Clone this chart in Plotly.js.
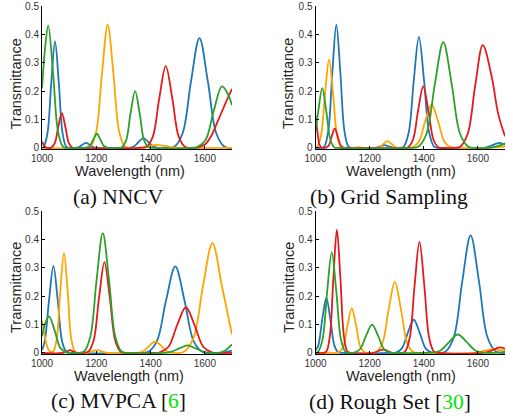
<!DOCTYPE html>
<html>
<head>
<meta charset="utf-8">
<script src="https://cdn.plot.ly/plotly-3.0.1.min.js"></script>
<style>html,body{margin:0;padding:0;background:#fff;}#chart{width:506px;height:417px;}</style>
</head>
<body>
<div id="chart"></div>
<script>
// ---- tick labels ----
const xTickVals = [1000, 1200, 1400, 1600];
const yTickVals = [0, 0.1, 0.2, 0.3, 0.4, 0.5];
const yTickText = ['0', '0.1', '0.2', '0.3', '0.4', '0.5'];
const panelCaptions = ['(a) NNCV', '(b) Grid Sampling', '(c) MVPCA [<span style="color:#00e600">6</span>]', '(d) Rough Set [<span style="color:#00e600">30</span>]'];
const seriesNames = ['Filter 1', 'Filter 2', 'Filter 3', 'Filter 4'];

// ---- (a) NNCV ----
const aBlueX = [1000,1006,1020,1034,1048,1062,1076,1090,1104,1120,1134,1148,1162,1176,1190,1204,1320,1338,1356,1374,1392,1410,1428,1456,1487,1518,1549,1580,1611,1642,1673,1700];
const aBlueY = [0,0.004,0.051,0.228,0.375,0.228,0.051,0.004,0,0,0.002,0.011,0.018,0.011,0.002,0,0,0.005,0.021,0.035,0.021,0.005,0,0,0.004,0.052,0.235,0.387,0.235,0.052,0.004,0];
const aOrangeX = [1000,1158,1179,1200,1221,1242,1263,1284,1305,1326,1363,1393,1423,1453,1483,1513,1700];
const aOrangeY = [0,0,0.005,0.059,0.263,0.434,0.263,0.059,0.005,0,0.002,0.007,0.011,0.007,0.002,0,0];
const aRedX = [1000,1008,1016,1024,1034,1047,1060,1073,1086,1099,1112,1125,1360,1384,1408,1432,1456,1480,1504,1528,1552,1575,1600,1625,1650,1675,1700];
const aRedY = [0.022,0.008,0.001,0,0.001,0.017,0.075,0.123,0.075,0.017,0.001,0,0,0.003,0.039,0.175,0.288,0.175,0.039,0.003,0,0.002,0.012,0.045,0.1,0.155,0.208];
const aGreenX = [1000,1012,1023,1041,1059,1077,1095,1150,1163,1176,1189,1202,1215,1228,1241,1254,1277,1293,1310,1326,1343,1360,1376,1393,1410,1543,1573,1603,1633,1663,1685,1700];
const aGreenY = [0.21,0.358,0.431,0.262,0.058,0.005,0,0,0.001,0.007,0.03,0.05,0.03,0.007,0.001,0,0,0.002,0.027,0.121,0.2,0.121,0.027,0.002,0,0,0.004,0.029,0.132,0.217,0.19,0.15];

// ---- (b) Grid Sampling ----
const bBlueX = [1000,1017,1032,1047,1062,1077,1092,1107,1122,1137,1220,1240,1255,1270,1290,1306,1325,1344,1363,1382,1401,1420,1439,1458,1620,1650,1678,1700];
const bBlueY = [0,0,0.005,0.059,0.263,0.434,0.263,0.059,0.005,0,0,0.006,0.01,0.006,0,0,0.004,0.053,0.237,0.391,0.237,0.053,0.004,0,0,0.008,0.018,0.012];
const bOrangeX = [1000,1005,1020,1035,1050,1065,1080,1095,1110,1140,1160,1180,1224,1238,1252,1266,1280,1294,1308,1333,1357,1381,1405,1429,1453,1477,1501,1525,1640,1670,1700];
const bOrangeY = [0,0.003,0.042,0.189,0.312,0.189,0.042,0.003,0,0,0.003,0,0,0.003,0.015,0.024,0.015,0.003,0,0,0.002,0.021,0.093,0.153,0.093,0.021,0.002,0,0,0.002,0.006];
const bRedX = [1000,1005,1010,1015,1022,1030,1038,1049,1060,1071,1082,1093,1104,1115,1322,1341,1360,1379,1398,1417,1436,1455,1474,1506,1534,1562,1590,1618,1650,1675,1700];
const bRedY = [0.115,0.075,0.035,0.011,0.001,0,0.001,0.009,0.041,0.068,0.041,0.009,0.001,0,0,0.002,0.029,0.132,0.217,0.132,0.029,0.002,0,0,0.004,0.049,0.22,0.362,0.255,0.12,0.041];
const bGreenX = [1000,1010,1025,1040,1055,1070,1085,1348,1379,1410,1441,1472,1503,1534,1565,1596,1640,1670,1700];
const bGreenY = [0.056,0.128,0.211,0.128,0.029,0.002,0,0,0.004,0.05,0.226,0.373,0.226,0.05,0.004,0,0,0.006,0.016];

// ---- (c) MVPCA ----
const cBlueX = [1000,1010,1026,1042,1058,1074,1090,1106,1355,1389,1423,1457,1491,1525,1559,1593,1627,1660,1700];
const cBlueY = [0.01,0.041,0.186,0.307,0.186,0.041,0.003,0,0,0.003,0.041,0.185,0.305,0.185,0.041,0.003,0,0,0.008];
const cOrangeX = [1000,1010,1020,1030,1041,1054,1067,1081,1095,1108,1122,1135,1165,1185,1202,1220,1240,1351,1373,1395,1417,1439,1461,1483,1523,1558,1593,1628,1663,1700];
const cOrangeY = [0.114,0.06,0.02,0.005,0.005,0.048,0.213,0.352,0.213,0.048,0.004,0,0,0.006,0.01,0.006,0,0,0.006,0.025,0.041,0.025,0.006,0,0.004,0.052,0.235,0.387,0.235,0.065];
const cRedX = [1000,1075,1090,1103,1116,1130,1150,1170,1190,1210,1230,1250,1270,1290,1310,1402,1434,1466,1498,1530,1562,1594,1626,1658,1700];
const cRedY = [0,0,0.005,0.01,0.005,0,0,0.004,0.043,0.194,0.32,0.194,0.043,0.004,0,0,0.002,0.022,0.098,0.161,0.098,0.022,0.002,0,0];
const cGreenX = [1000,1013,1026,1047,1068,1089,1110,1132,1155,1178,1201,1224,1247,1270,1293,1316,1446,1476,1506,1536,1566,1596,1626,1650,1675,1700];
const cGreenY = [0.059,0.107,0.129,0.078,0.017,0.002,0,0,0.005,0.057,0.256,0.422,0.256,0.057,0.005,0,0,0.004,0.016,0.027,0.016,0.004,0,0,0.009,0.03];

// ---- (d) Rough Set ----
const dBlueX = [1000,1010,1025,1040,1055,1070,1085,1100,1275,1297,1319,1341,1363,1385,1407,1429,1451,1480,1511,1542,1573,1604,1635,1666,1700];
const dBlueY = [0.01,0.026,0.118,0.194,0.118,0.026,0.002,0,0,0.001,0.016,0.071,0.117,0.071,0.016,0.001,0,0.004,0.056,0.251,0.414,0.251,0.056,0.005,0];
const dOrangeX = [1000,1070,1086,1102,1118,1134,1150,1166,1182,1198,1224,1247,1270,1293,1316,1339,1362,1385,1590,1625,1655,1685,1700];
const dOrangeY = [0,0,0.002,0.021,0.096,0.158,0.096,0.021,0.002,0,0.003,0.034,0.152,0.25,0.152,0.034,0.003,0,0,0.008,0.013,0.01,0.008];
const dRedX = [1000,1027,1040,1053,1066,1079,1092,1105,1118,1131,1215,1232,1249,1266,1285,1312,1330,1348,1366,1384,1402,1420,1438,1456,1620,1650,1680,1700];
const dRedY = [0,0,0.005,0.059,0.263,0.434,0.263,0.059,0.005,0,0,0.007,0.012,0.007,0,0,0.004,0.053,0.237,0.391,0.237,0.053,0.004,0,0,0.008,0.02,0.015];
const dGreenX = [1000,1009,1026,1043,1060,1077,1094,1111,1128,1143,1165,1187,1209,1231,1253,1275,1297,1398,1430,1462,1494,1526,1558,1590,1622,1654,1700];
const dGreenY = [0.001,0.004,0.048,0.215,0.355,0.215,0.048,0.004,0,0.001,0.014,0.061,0.1,0.061,0.014,0.001,0,0,0.001,0.009,0.039,0.065,0.039,0.009,0.001,0,0.004];

// ---- build ----
const colors = {blue: '#1f77b4', orange: '#ffa500', red: '#e41a1c', green: '#2ca02c'};
const panels = [
  {ax: '', series: [['blue', aBlueX, aBlueY], ['orange', aOrangeX, aOrangeY], ['red', aRedX, aRedY], ['green', aGreenX, aGreenY]]},
  {ax: '2', series: [['blue', bBlueX, bBlueY], ['orange', bOrangeX, bOrangeY], ['red', bRedX, bRedY], ['green', bGreenX, bGreenY]]},
  {ax: '3', series: [['blue', cBlueX, cBlueY], ['orange', cOrangeX, cOrangeY], ['red', cRedX, cRedY], ['green', cGreenX, cGreenY]]},
  {ax: '4', series: [['blue', dBlueX, dBlueY], ['orange', dOrangeX, dOrangeY], ['red', dRedX, dRedY], ['green', dGreenX, dGreenY]]}
];
const traces = [];
panels.forEach(p => {
  p.series.forEach((s, i) => {
    traces.push({
      type: 'scatter', mode: 'lines', name: seriesNames[i],
      x: s[1], y: s[2],
      xaxis: 'x' + p.ax, yaxis: 'y' + p.ax,
      line: {color: colors[s[0]], width: 1.8, shape: 'spline', smoothing: 1},
      showlegend: false, hoverinfo: 'skip'
    });
  });
});

const tickFont = {family: 'Liberation Sans, Arial, sans-serif', size: 10, color: '#333'};
function xax(dom, anchor) {
  return {domain: dom, anchor: anchor, range: [1000, 1700], tickvals: xTickVals, ticks: 'inside', ticklen: 3,
    tickcolor: '#000', showline: true, linecolor: '#000', linewidth: 1, showgrid: false, zeroline: false,
    tickfont: tickFont, fixedrange: true};
}
function yax(dom, anchor) {
  return {domain: dom, anchor: anchor, range: [-0.004, 0.5], tickvals: yTickVals, ticktext: yTickText, ticks: 'inside', ticklen: 3,
    tickcolor: '#000', showline: true, linecolor: '#000', linewidth: 1, showgrid: false, zeroline: false,
    tickfont: tickFont, fixedrange: true};
}
const W = 506, H = 417;
const xL = [42 / W, 232 / W], xR = [315.5 / W, 505 / W];
const yT = [1 - 149.1 / H, 1 - 6 / H], yB = [1 - 354.1 / H, 1 - 211 / H];

const titleFont = {family: 'Liberation Sans, Arial, sans-serif', size: 14.5, color: '#262626'};
const capFont = {family: 'Liberation Serif, Times New Roman, serif', size: 21.5, color: '#111'};
const annotations = [];
[[15.5, 84], [288, 84], [16, 288], [289, 288]].forEach(p => annotations.push({
  text: 'Transmittance', x: p[0] / W, y: 1 - p[1] / H, xref: 'paper', yref: 'paper', showarrow: false,
  textangle: -90, xanchor: 'center', yanchor: 'middle', font: titleFont}));
[[129.5, 171], [401, 171], [129, 375.5], [401, 375.5]].forEach(p => annotations.push({
  text: 'Wavelength (nm)', x: p[0] / W, y: 1 - p[1] / H, xref: 'paper', yref: 'paper', showarrow: false,
  xanchor: 'center', yanchor: 'middle', font: titleFont}));
[[118.5, 197], [389, 197], [118, 401], [390, 402]].forEach((p, i) => annotations.push({
  text: panelCaptions[i], x: p[0] / W, y: 1 - p[1] / H, xref: 'paper', yref: 'paper', showarrow: false,
  xanchor: 'center', yanchor: 'middle', font: capFont}));

const layout = {
  width: W, height: H, margin: {l: 0, r: 0, t: 0, b: 0},
  paper_bgcolor: '#fff', plot_bgcolor: '#fff', showlegend: false,
  xaxis: xax(xL, 'y'), yaxis: yax(yT, 'x'),
  xaxis2: xax(xR, 'y2'), yaxis2: yax(yT, 'x2'),
  xaxis3: xax(xL, 'y3'), yaxis3: yax(yB, 'x3'),
  xaxis4: xax(xR, 'y4'), yaxis4: yax(yB, 'x4'),
  annotations: annotations
};
Plotly.newPlot('chart', traces, layout, {displayModeBar: false, staticPlot: true});
</script>
</body>
</html>
